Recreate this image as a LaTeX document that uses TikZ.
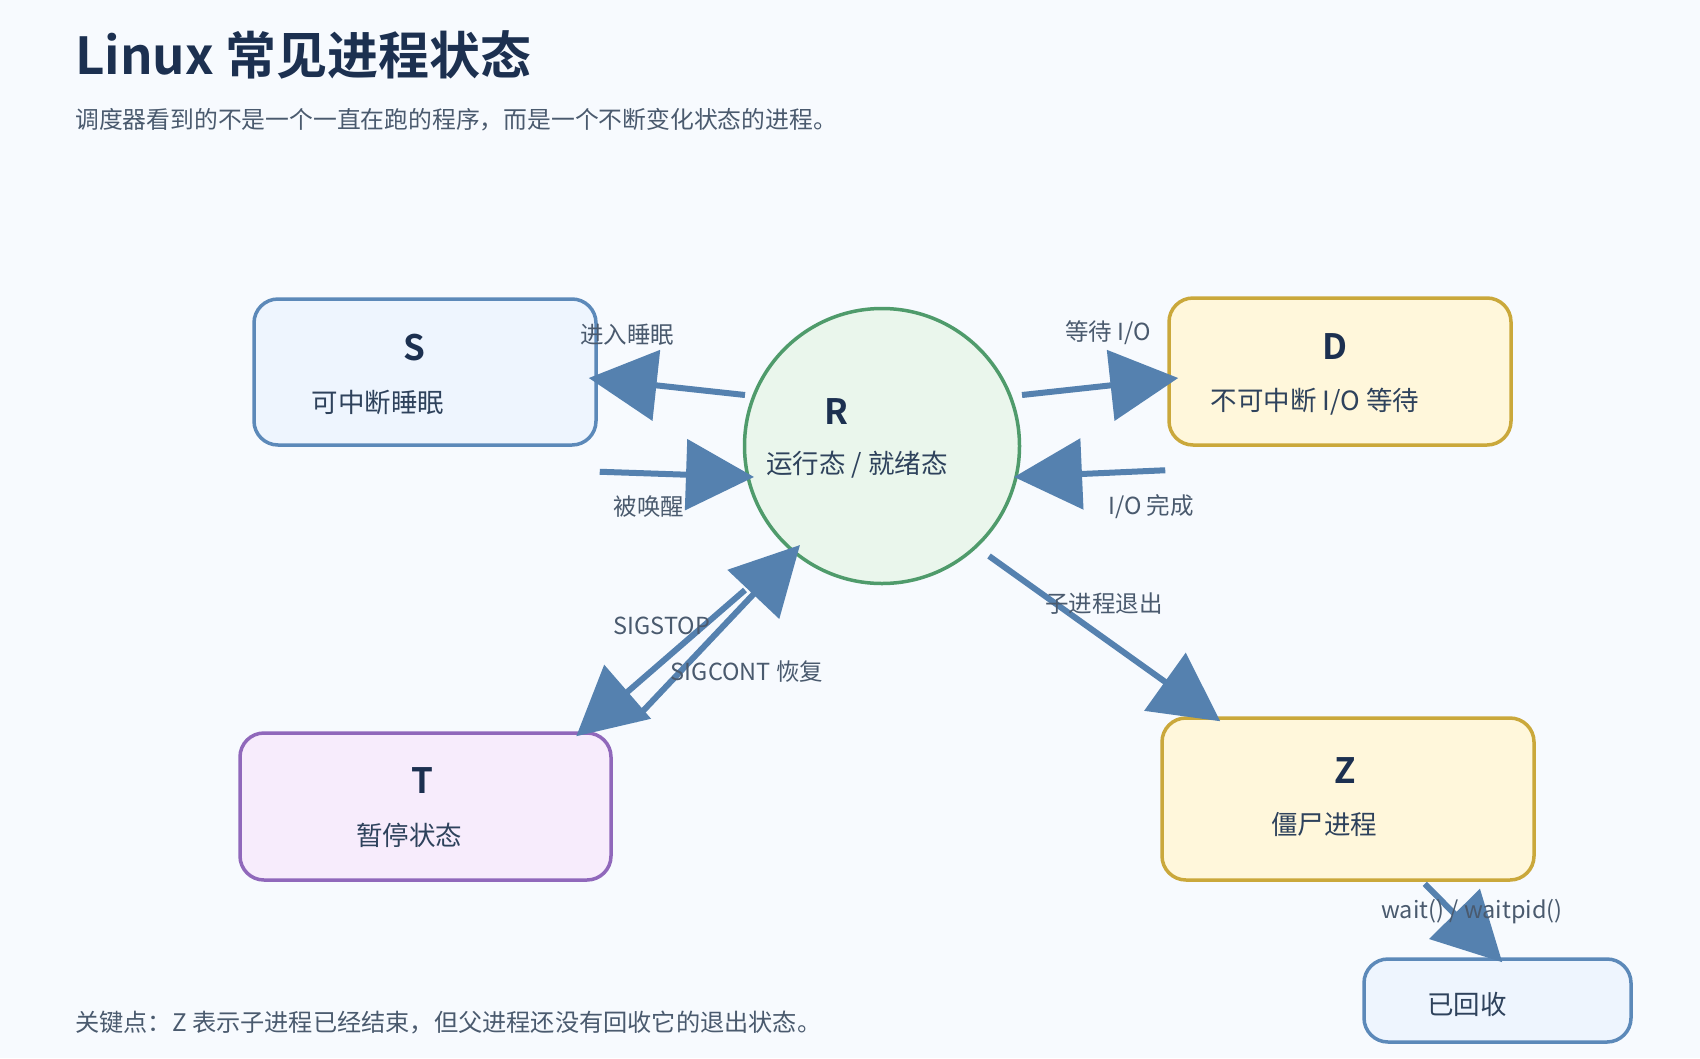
\documentclass[tikz,border=0pt]{standalone}
\usepackage{fontspec}
\setmainfont{Noto Sans CJK SC}[BoldFont={Noto Sans CJK SC Bold}]
\usetikzlibrary{arrows.meta,calc}
\definecolor{bgc}{HTML}{F7FAFE}
\definecolor{titlec}{HTML}{1C3050}
\definecolor{subc}{HTML}{2E425C}
\definecolor{labc}{HTML}{4A5A6E}
\definecolor{arrc}{HTML}{5581AF}
\definecolor{blueb}{HTML}{5C89B9}
\definecolor{bluef}{HTML}{EEF5FE}
\definecolor{greenb}{HTML}{4F9B6B}
\definecolor{greenf}{HTML}{EAF6EC}
\definecolor{goldb}{HTML}{CAA83B}
\definecolor{goldf}{HTML}{FFF7DB}
\definecolor{purpb}{HTML}{9068BB}
\definecolor{purpf}{HTML}{F7ECFC}
\begin{document}
\begin{tikzpicture}[x=1pt,y=-1pt,
  box/.style={draw, line width=3.5pt, rounded corners=24pt, inner sep=0pt},
  letter/.style={font=\bfseries\fontsize{35}{40}\selectfont, text=titlec, inner sep=0pt},
  subt/.style={font=\fontsize{26.5}{30}\selectfont, text=subc, inner sep=0pt},
  lab/.style={font=\fontsize{23.5}{28}\selectfont, text=labc, inner sep=0pt},
  arr/.style={draw=arrc, line width=6pt, -{Triangle[length=68pt,width=70pt]}}]
\fill[bgc] (0,0) rectangle (1700,1058);
\useasboundingbox (0,0) rectangle (1700,1058);

% title and notes
\node[anchor=west, inner sep=0pt, text=titlec, font=\bfseries\fontsize{51}{58}\selectfont] (title) at (75,55) {Linux 常见进程状态};
\node[anchor=west, inner sep=0pt, text=labc, font=\fontsize{23.8}{28}\selectfont] (subtitle) at (75,120) {调度器看到的不是一个一直在跑的程序，而是一个不断变化状态的进程。};
\node[anchor=west, inner sep=0pt, text=labc, font=\fontsize{24.2}{28}\selectfont] (footer) at (75,1023) {关键点：Z 表示子进程已经结束，但父进程还没有回收它的退出状态。};

% state boxes
\node[box, draw=blueb, fill=bluef, minimum width=342pt, minimum height=146pt] (S) at (425,372) {};
\node[draw=greenb, fill=greenf, line width=3.5pt, circle, minimum size=275pt, inner sep=0pt] (R) at (882,446) {};
\node[box, draw=goldb, fill=goldf, minimum width=342pt, minimum height=147pt] (D) at (1340,371.5) {};
\node[box, draw=purpb, fill=purpf, minimum width=371pt, minimum height=147pt] (T) at (425.5,806.5) {};
\node[box, draw=goldb, fill=goldf, minimum width=372pt, minimum height=162pt] (Z) at (1348,799) {};
\node[box, draw=blueb, fill=bluef, minimum width=267pt, minimum height=83pt] (X) at (1497.5,1000.5) {};

% box texts
\node[letter] (Sl) at (414,348) {S};
\node[subt] (Ss) at (378,402) {可中断睡眠};
\node[letter] (Rl) at (836,412) {R};
\node[subt] (Rs) at (857,465) {运行态 / 就绪态};
\node[letter] (Dl) at (1335,347) {D};
\node[subt] (Ds) at (1315,402) {不可中断 I/O 等待};
\node[letter] (Tl) at (422,781) {T};
\node[subt] (Ts) at (409,835) {暂停状态};
\node[letter] (Zl) at (1345,771) {Z};
\node[subt] (Zs) at (1324,824) {僵尸进程};
\node[subt] (Xs) at (1467,1004) {已回收};

% transitions
\draw[arr] ($(R.center)+(-137,-51)$) -- ($(S.east)+(-9,6)$);
\draw[arr] ($(S.south east)+(2,25)$) -- ($(R.center)+(-128,31)$);
\draw[arr] ($(R.center)+(140,-51)$) -- ($(D.west)+(11,6.5)$);
\draw[arr] ($(D.south west)+(-2,23.5)$) -- ($(R.center)+(132,31)$);
\draw[arr] ($(R.center)+(-137,144)$) -- ($(T.north east)+(-36.5,5)$);
\draw[arr] ($(T.north east)+(21.5,-11)$) -- ($(R.center)+(-82,99)$);
\draw[arr] ($(R.center)+(107,110)$) -- ($(Z.north west)+(60,5)$);
\draw[arr] ($(Z.south east)+(-111,2)$) -- ($(X.north west)+(140,5)$);

% edge labels (drawn over the connectors)
\node[lab] (l1) at (627,335) {进入睡眠};
\node[lab] (l2) at (649,507) {被唤醒};
\node[lab] (l3) at (1108,333) {等待 I/O};
\node[lab] (l4) at (1151,507) {I/O 完成};
\node[lab] (l5) at (662,626) {SIGSTOP};
\node[lab] (l6) at (747,672) {SIGCONT 恢复};
\node[lab] (l7) at (1104,604) {子进程退出};
\node[lab] (l8) at (1472,912) {wait() / waitpid()};
\end{tikzpicture}
\end{document}
